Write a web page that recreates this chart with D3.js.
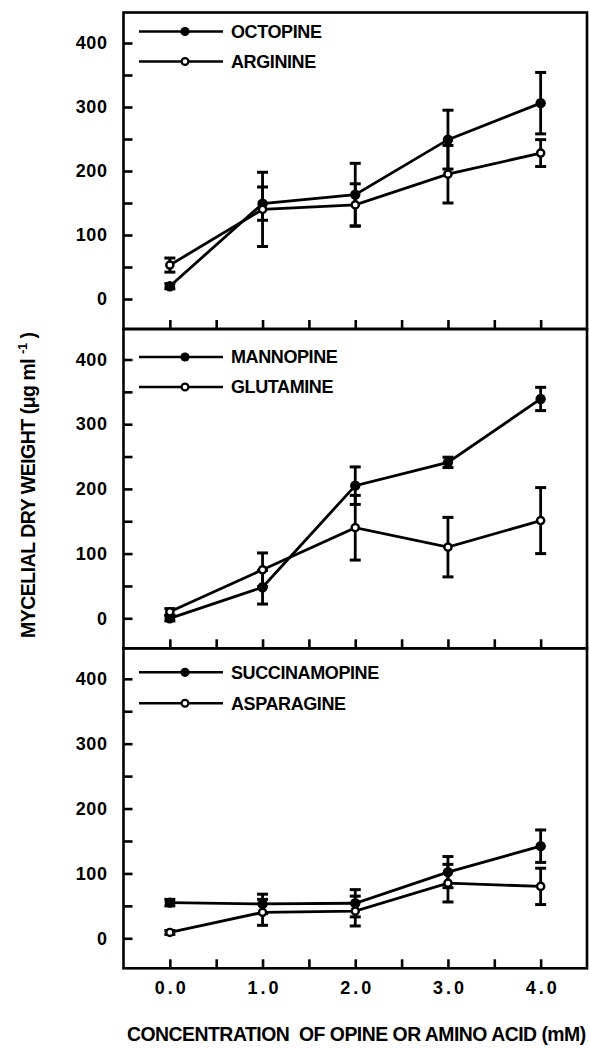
<!DOCTYPE html>
<html>
<head>
<meta charset="utf-8">
<script src="https://cdn.jsdelivr.net/npm/d3@7"></script>
<style>
  html, body { margin: 0; padding: 0; background: #fff; overflow: hidden; }
  text { font-family: "Liberation Sans", Arial, Helvetica, sans-serif; font-weight: bold; fill: #000; }
</style>
</head>
<body>
<div id="chart"></div>
<script>
// data
var concentrations = [0, 1, 2, 3, 4];
var xTickLabels = ["0.0", "1.0", "2.0", "3.0", "4.0"];
var yTickLabels = [0, 100, 200, 300, 400];

var octopine = [20, 149, 163, 249, 306];
var octopineErr = [4, 26, 49, 46, 48];
var arginine = [53, 140, 147, 195, 228];
var arginineErr = [11, 58, 33, 45, 21];

var mannopine = [0, 48, 205, 241, 339];
var mannopineErr = [4, 26, 29, 8, 18];
var glutamine = [10, 75, 140, 110, 151];
var glutamineErr = [5, 26, 50, 46, 51];

var succinamopine = [55, 53, 54, 102, 142];
var succinamopineErr = [5, 15, 21, 24, 25];
var asparagine = [9, 40, 42, 85, 80];
var asparagineErr = [3, 20, 23, 29, 28];

// page layout
var w = 589, h = 1049;
var left = 123.5, right = 587;
var edges = [12.5, 329, 648.3, 968.3];
var legendY = [[19, 49], [28, 58], [24, 55]];
var font = "'Liberation Sans', Arial, sans-serif";

var panels = [
  [{ name: "OCTOPINE", v: octopine, e: octopineErr, filled: true },
   { name: "ARGININE", v: arginine, e: arginineErr, filled: false }],
  [{ name: "MANNOPINE", v: mannopine, e: mannopineErr, filled: true },
   { name: "GLUTAMINE", v: glutamine, e: glutamineErr, filled: false }],
  [{ name: "SUCCINAMOPINE", v: succinamopine, e: succinamopineErr, filled: true },
   { name: "ASPARAGINE", v: asparagine, e: asparagineErr, filled: false }]
];

var svg = d3.select("#chart")
            .append("svg")
            .attr("width", w)
            .attr("height", h);

var x = d3.scaleLinear().domain([-0.5, 4.5]).range([left, right]);

panels.forEach(function (series, p) {
    var top = edges[p], bottom = edges[p + 1];
    var y = d3.scaleLinear().domain([0, 400]).range([bottom - 30, top + 30.5]);
    var g = svg.append("g");

    // frame
    g.append("rect")
     .attr("x", left).attr("y", top)
     .attr("width", right - left).attr("height", bottom - top)
     .attr("fill", "none").attr("stroke", "#000").attr("stroke-width", 2.6);

    // y ticks pointing inside
    var yTicks = g.append("g")
        .attr("transform", "translate(" + left + ",0)")
        .call(d3.axisRight(y).tickValues(d3.range(0, 401, 50)).tickSize(9).tickFormat(""));
    yTicks.select(".domain").remove();
    yTicks.selectAll("line").attr("stroke-width", 2.6);

    // y labels
    var yLab = g.append("g")
        .attr("transform", "translate(" + left + ",0)")
        .call(d3.axisLeft(y).tickValues(yTickLabels).tickSize(0).tickPadding(16));
    yLab.select(".domain").remove();
    yLab.selectAll("text")
        .attr("font-size", 18)
        .attr("letter-spacing", 0.6)
        .style("font-family", font)
        .style("font-weight", "bold");

    // x ticks pointing inside
    var xTicks = g.append("g")
        .attr("transform", "translate(0," + bottom + ")")
        .call(d3.axisTop(x).tickValues(d3.range(0, 4.01, 0.5)).tickSize(9).tickFormat(""));
    xTicks.select(".domain").remove();
    xTicks.selectAll("line").attr("stroke-width", 2.6);

    if (p === panels.length - 1) {
        var xLab = g.append("g")
            .attr("transform", "translate(0," + bottom + ")")
            .call(d3.axisBottom(x).tickValues(concentrations).tickSize(0).tickPadding(13)
                  .tickFormat(function (d, i) { return xTickLabels[i]; }));
        xLab.select(".domain").remove();
        xLab.selectAll("text")
            .attr("font-size", 18)
            .attr("letter-spacing", 3)
            .attr("dx", 1.5)
            .style("font-family", font)
            .style("font-weight", "bold");
    }

    var line = d3.line()
        .x(function (d, i) { return x(concentrations[i]); })
        .y(function (d) { return y(d); });

    series.forEach(function (s, k) {
        var sg = g.append("g");
        sg.append("path")
          .datum(s.v)
          .attr("d", line)
          .attr("fill", "none").attr("stroke", "#000").attr("stroke-width", 2.8);

        // error bars
        var eb = sg.selectAll(".eb")
          .data(s.v)
          .enter()
          .append("g");
        eb.append("line")
          .attr("x1", function (d, i) { return x(concentrations[i]); })
          .attr("x2", function (d, i) { return x(concentrations[i]); })
          .attr("y1", function (d, i) { return y(d - s.e[i]); })
          .attr("y2", function (d, i) { return y(d + s.e[i]); })
          .attr("stroke", "#000").attr("stroke-width", 2.8);
        [-1, 1].forEach(function (sgn) {
            eb.append("line")
              .attr("x1", function (d, i) { return x(concentrations[i]) - 5.5; })
              .attr("x2", function (d, i) { return x(concentrations[i]) + 5.5; })
              .attr("y1", function (d, i) { return y(d + sgn * s.e[i]); })
              .attr("y2", function (d, i) { return y(d + sgn * s.e[i]); })
              .attr("stroke", "#000").attr("stroke-width", 3);
        });

        // markers
        sg.selectAll("circle")
          .data(s.v)
          .enter()
          .append("circle")
          .attr("cx", function (d, i) { return x(concentrations[i]); })
          .attr("cy", function (d) { return y(d); })
          .attr("r", s.filled ? 5.2 : 3.6)
          .attr("fill", s.filled ? "#000" : "#fff")
          .attr("stroke", "#000")
          .attr("stroke-width", s.filled ? 0 : 2.4);

        // legend
        var ly = top + legendY[p][k];
        sg.append("line")
          .attr("x1", 139).attr("x2", 223)
          .attr("y1", ly).attr("y2", ly)
          .attr("stroke", "#000").attr("stroke-width", 2.5);
        sg.append("circle")
          .attr("cx", 185).attr("cy", ly)
          .attr("r", s.filled ? 4.6 : 3.4)
          .attr("fill", s.filled ? "#000" : "#fff")
          .attr("stroke", "#000")
          .attr("stroke-width", s.filled ? 0 : 2.2);
        sg.append("text")
          .attr("x", 231).attr("y", ly)
          .attr("dy", "0.36em")
          .attr("font-size", 18)
          .attr("letter-spacing", -0.4)
          .text(s.name);
    });
});

// axis titles
svg.append("text")
   .attr("x", 127)
   .attr("y", 1041)
   .attr("font-size", 19.4)
   .attr("letter-spacing", -0.5)
   .attr("xml:space", "preserve")
   .text("CONCENTRATION  OF OPINE OR AMINO ACID (mM)");

var yt = svg.append("text")
   .attr("transform", "translate(35,638) rotate(-90)")
   .attr("font-size", 19.5)
   .attr("letter-spacing", -0.5);
yt.append("tspan").text("MYCELIAL DRY WEIGHT (\u03BCg ml ");
yt.append("tspan").attr("dy", -8).attr("font-size", 13).text("-1");
yt.append("tspan").attr("dy", 8).text(" )");
</script>
</body>
</html>
